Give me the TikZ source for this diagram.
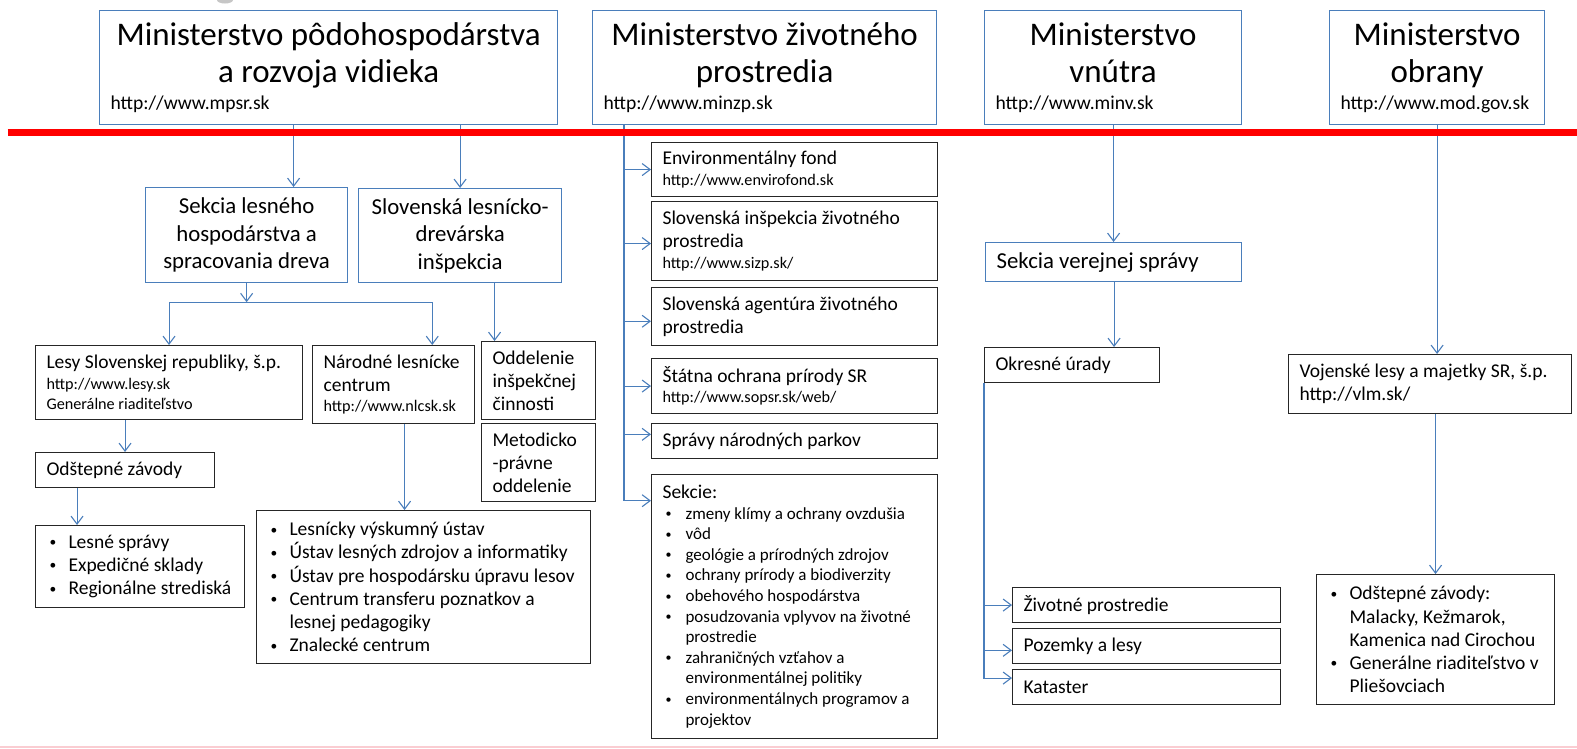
\documentclass[tikz,border=0pt]{standalone}
\usepackage{fontspec}
\setmainfont{Carlito}
\usepackage{tikz}
\usetikzlibrary{arrows.meta}

\definecolor{minblue}{RGB}{74,126,187}
\definecolor{delred}{RGB}{255,0,0}
\definecolor{okraj}{RGB}{250,205,210}

\newcommand{\ftitle}{\fontsize{33}{37}\selectfont}
\newcommand{\furl}{\fontsize{19.6}{27}\selectfont}
\newcommand{\fsec}{\fontsize{22.8}{27.5}\selectfont}
\newcommand{\fmain}{\fontsize{19.5}{23.2}\selectfont}
\newcommand{\fsmall}{\fontsize{16.2}{20.5}\selectfont}
\newcommand{\fsek}{\fontsize{17}{20.6}\selectfont}
\newcommand{\malybod}{\raisebox{1.7pt}{\fontsize{13.5}{13.5}\selectfont\textbullet}}
\newcommand{\bulit}[1]{\hspace*{3pt}\makebox[19pt][l]{\malybod}\mbox{#1}}
\newcommand{\bulgap}{\hspace*{22pt}}
\newcommand{\sekit}[1]{\hspace*{3pt}\makebox[20pt][l]{\raisebox{1.4pt}{\fontsize{12}{12}\selectfont\textbullet}}\mbox{#1}}

\begin{document}
\begin{tikzpicture}[x=1pt, y=-1pt,
    conn/.style={draw=minblue, line width=1.1pt, -{Straight Barb[length=8pt, width=12pt]}},
    spoj/.style={draw=minblue, line width=1.1pt},
    topbox/.style={draw=minblue, line width=1.2pt, anchor=north west, align=flush center,
        inner xsep=11pt, inner ysep=2pt},
    secbox/.style={draw=minblue, line width=1.2pt, anchor=north west, font=\fsec,
        inner xsep=11pt, inner ysep=2pt},
    blkbox/.style={draw=black!85, line width=1.1pt, anchor=north west, align=flush left,
        font=\fmain, inner xsep=11pt, inner ysep=2pt}]

    \fill[white] (0,0) rectangle (1577,748);
    \useasboundingbox (0,0) rectangle (1577,748);

    % =================================================================
    % 1. MINISTERSTVA
    % =================================================================
    \node[topbox, text width=436pt, minimum height=114pt] (mpsr) at (99,10)
        {{\ftitle Ministerstvo pôdohospodárstva\\ a rozvoja vidieka\par}%
         {\raggedright\furl http://www.mpsr.sk\par}\vspace{-6pt}};
    \node[topbox, text width=322pt, minimum height=114pt] (minzp) at (592,10)
        {{\ftitle Ministerstvo životného\\ prostredia\par}%
         {\raggedright\furl http://www.minzp.sk\par}\vspace{-6pt}};
    \node[topbox, text width=235pt, minimum height=114pt] (minv) at (984,10)
        {{\ftitle Ministerstvo\\ vnútra\par}%
         {\raggedright\furl http://www.minv.sk\par}\vspace{-6pt}};
    \node[topbox, text width=193pt, minimum height=114pt] (mod) at (1329,10)
        {{\ftitle Ministerstvo\\ obrany\par}%
         {\raggedright\furl http://www.mod.gov.sk\par}\vspace{-6pt}};

    % =================================================================
    % 2. LESNÍCTVO (MPSR)
    % =================================================================
    \node[secbox, align=flush center, minimum width=202pt, minimum height=95pt] (sekcia) at (145,187)
        {Sekcia lesného\\ hospodárstva a\\ spracovania dreva};
    \node[secbox, align=flush center, minimum width=203pt, minimum height=94pt] (sldi) at (358,188)
        {Slovenská lesnícko-\\ drevárska\\ inšpekcia};

    \node[blkbox, text width=245pt, minimum height=74pt] (lesy) at (35,345)
        {Lesy Slovenskej republiky, š.p.\par
         {\fsmall http://www.lesy.sk\\ Generálne riaditeľstvo\par}};
    \node[blkbox, text width=140pt, minimum height=78pt] (nlc) at (312,345)
        {Národné lesnícke\\ centrum\par
         {\fsmall http://www.nlcsk.sk\par}};
    \node[blkbox, text width=92pt, minimum height=78pt] (odd) at (481,341)
        {Oddelenie\\ inšpekčnej\\ činnosti};
    \node[blkbox, text width=92pt, minimum height=78pt] (metod) at (481,423)
        {Metodicko\\ -právne\\ oddelenie};

    \node[blkbox, text width=157pt, minimum height=35pt] (odsz) at (35,452)
        {Odštepné závody};
    \node[blkbox, text width=187pt, minimum height=82pt] (lesne) at (35,525)
        {\bulit{Lesné správy}\\ \bulit{Expedičné sklady}\\ \bulit{Regionálne strediská}};
    \node[blkbox, text width=312pt, minimum height=153pt] (nlclist) at (256,510)
        {\bulit{Lesnícky výskumný ústav}\\
         \bulit{Ústav lesných zdrojov a informatiky}\\
         \bulit{Ústav pre hospodársku úpravu lesov}\\
         \bulit{Centrum transferu poznatkov a}\\
         \bulgap lesnej pedagogiky\\
         \bulit{Znalecké centrum}};

    % =================================================================
    % 3. ŽIVOTNÉ PROSTREDIE (MINZP)
    % =================================================================
    \node[blkbox, text width=264pt, minimum height=54pt] (env) at (651,142)
        {Environmentálny fond\par{\fsmall http://www.envirofond.sk\par}};
    \node[blkbox, text width=264pt, minimum height=79pt] (sizp) at (651,201)
        {Slovenská inšpekcia životného\\ prostredia\par{\fsmall http://www.sizp.sk/\par}};
    \node[blkbox, text width=264pt, minimum height=58pt] (sazp) at (651,287)
        {Slovenská agentúra životného\\ prostredia};
    \node[blkbox, text width=264pt, minimum height=55pt] (sopsr) at (651,358)
        {Štátna ochrana prírody SR\par{\fsmall http://www.sopsr.sk/web/\par}};
    \node[blkbox, text width=264pt, minimum height=35pt] (snp) at (651,423)
        {Správy národných parkov};
    \node[blkbox, text width=264pt, minimum height=264pt] (sekcie) at (651,474)
        {Sekcie:\par
         {\fsek \sekit{zmeny klímy a ochrany ovzdušia}\\
          \sekit{vôd}\\
          \sekit{geológie a prírodných zdrojov}\\
          \sekit{ochrany prírody a biodiverzity}\\
          \sekit{obehového hospodárstva}\\
          \sekit{posudzovania vplyvov na životné}\\
          \hspace*{23pt}prostredie\\
          \sekit{zahraničných vzťahov a}\\
          \hspace*{23pt}environmentálnej politiky\\
          \sekit{environmentálnych programov a}\\
          \hspace*{23pt}projektov\par}};

    % =================================================================
    % 4. VNÚTRO A OBRANA
    % =================================================================
    \node[secbox, align=flush left, text width=234pt, minimum height=39pt] (svs) at (985,242)
        {Sekcia verejnej správy};
    \node[blkbox, text width=153pt, minimum height=35pt] (okr) at (984,347)
        {Okresné úrady};
    \node[blkbox, text width=246pt, minimum height=35pt] (ziv) at (1012,587)
        {Životné prostredie};
    \node[blkbox, text width=246pt, minimum height=35pt] (poz) at (1012,628)
        {Pozemky a lesy};
    \node[blkbox, text width=246pt, minimum height=35pt] (kat) at (1012,669)
        {Kataster};

    \node[blkbox, text width=261pt, minimum height=59pt] (vlm) at (1288,354)
        {Vojenské lesy a majetky SR, š.p.\\ http://vlm.sk/};
    \node[blkbox, text width=216pt, minimum height=130pt] (vlmlist) at (1316,574)
        {\bulit{Odštepné závody:}\\ \bulgap Malacky, Kežmarok,\\
         \bulgap Kamenica nad Cirochou\\ \bulit{Generálne riaditeľstvo v}\\
         \bulgap Pliešovciach};

    % =================================================================
    % 5. SPOJNICE
    % =================================================================
    \coordinate (sekA) at ([xshift=47pt]sekcia.north);
    \coordinate (sekbar) at ([yshift=-19pt]sekcia.south);
    \coordinate (nlcA) at ([xshift=38.7pt]nlc.north);
    \coordinate (oddA) at ([xshift=-44pt]odd.north);
    \coordinate (lesneA) at ([xshift=-63pt]lesne.north);
    \coordinate (nlclistA) at ([xshift=-19pt]nlclist.north);
    \coordinate (zpA) at ([xshift=32pt]minzp.south west);
    \coordinate (okrA) at ([xshift=42pt]okr.north);

    \draw[conn] (mpsr.south -| sekA) -- (sekA);
    \draw[conn] (mpsr.south -| sldi.north) -- (sldi.north);
    \draw[conn] (sekcia.south) -- (sekbar);
    \draw[spoj] (sekbar -| lesy.north) -- (sekbar -| nlcA);
    \draw[conn] (sekbar -| lesy.north) -- (lesy.north);
    \draw[conn] (sekbar -| nlcA) -- (nlcA);
    \draw[conn] (sldi.south -| oddA) -- (oddA);
    \draw[conn] (lesy.south -| odsz.north) -- (odsz.north);
    \draw[conn] (odsz.south -| lesneA) -- (lesneA);
    \draw[conn] (nlc.south -| nlclistA) -- (nlclistA);

    \draw[conn] (zpA) |- (env.west);
    \draw[conn] (zpA) |- ([yshift=-2.5pt]sizp.west);
    \draw[conn] (zpA) |- ([yshift=-4.7pt]sazp.west);
    \draw[conn] (zpA) |- (sopsr.west);
    \draw[conn] (zpA) |- ([yshift=6.7pt]snp.west);
    \draw[conn] (zpA) |- ([yshift=-26.7pt]sekcie.north west);

    \draw[conn] (minv.south -| svs.north) -- (svs.north);
    \draw[conn] (svs.south -| okrA) -- (okrA);
    \draw[conn] (okr.south west) |- (ziv.west);
    \draw[conn] (okr.south west) |- ([yshift=-4.3pt]poz.west);
    \draw[conn] (okr.south west) |- ([yshift=9pt]kat.west);

    \draw[conn] (mod.south) -- (vlm.north -| mod.south);
    \draw[conn] (vlm.south -| vlmlist.north) -- (vlmlist.north);

    % =================================================================
    % 6. ČERVENÁ DELIACA ČIARA A OKRAJE
    % =================================================================
    \draw[delred, line width=6.5pt] (7.5,132.5) -- (1577,132.5);
    \fill[okraj] (0,746) rectangle (1577,748);
    \fill[gray!45] (217,0) arc[start angle=180, end angle=0, x radius=8, y radius=3.5] -- cycle;

\end{tikzpicture}
\end{document}
